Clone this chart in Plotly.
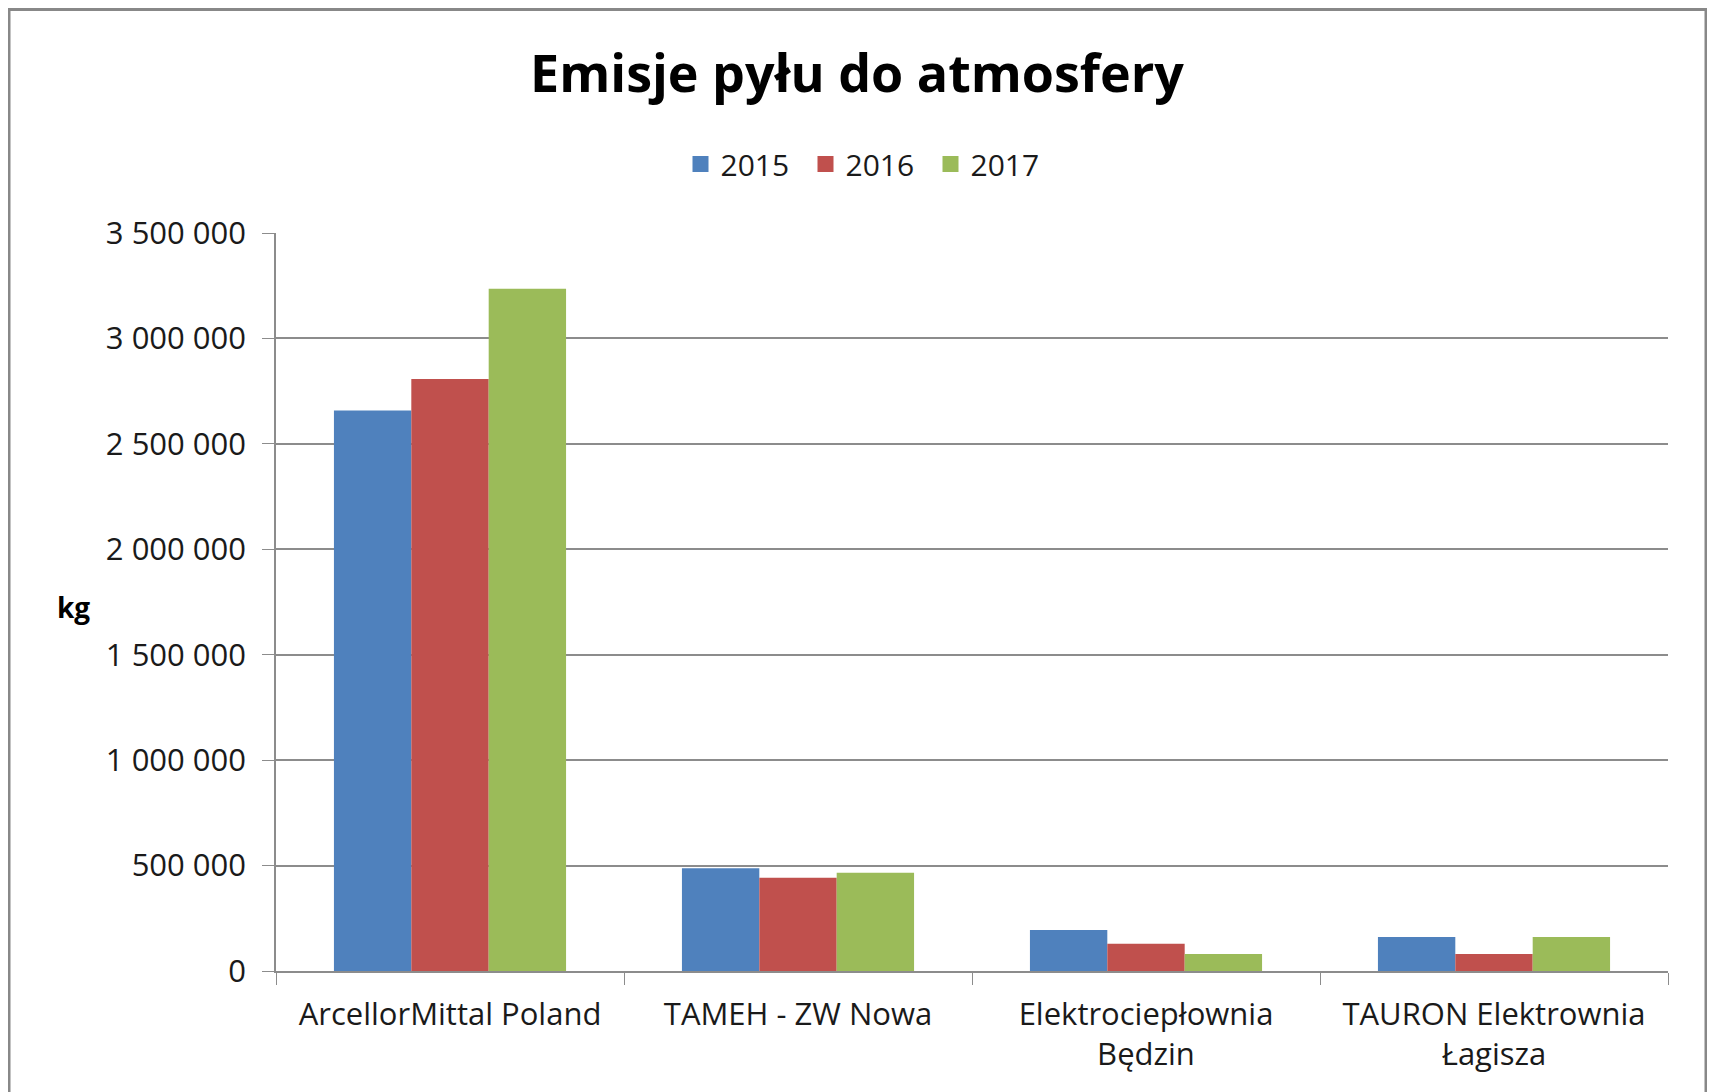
import plotly.graph_objects as go

categories = ["ArcellorMittal Poland", "TAMEH - ZW Nowa",
              "Elektrociepłownia<br>Będzin", "TAURON Elektrownia<br>Łagisza"]
years = ["2015", "2016", "2017"]
v2015 = [2658000, 487000, 194000, 161000]
v2016 = [2807000, 442000, 129000, 81000]
v2017 = [3236000, 466000, 81000, 161000]
colors = ["#4F81BD", "#C0504D", "#9BBB59"]
y_ticks = [0, 500000, 1000000, 1500000, 2000000, 2500000, 3000000, 3500000]

W, H = 1715, 1092
OFF = 8  # page body margin offset
L, R, T, B = 276 - OFF, 47 + OFF, 233 - OFF, 121 + OFF
pw, ph = W - L - R, H - T - B

def px_x(px):
    return (px - OFF - L) / pw

def px_y(py):
    return (H - B - (py - OFF)) / ph

font = "Open Sans, Liberation Sans, sans-serif"

fig = go.Figure()
for name, vals, c in zip(years, [v2015, v2016, v2017], colors):
    fig.add_trace(go.Bar(x=categories, y=vals, name=name, marker_color=c,
                         marker_line_width=0, showlegend=False,
                         legendgroup=name))
# legend entries with larger square swatches
for name, c in zip(years, colors):
    fig.add_trace(go.Scatter(x=[None], y=[None], mode="markers", name=name,
                             legendgroup=name,
                             marker=dict(symbol="square", size=16, color=c)))

fig.update_layout(
    width=W, height=H,
    margin=dict(l=L, r=R, t=T, b=B, autoexpand=False),
    paper_bgcolor="white", plot_bgcolor="white",
    barmode="group", bargap=0.333, bargroupgap=0,
    separators=", ",
    font=dict(family=font, size=31, color="#1a1a1a"),
    title=dict(text="<b>Emisje pyłu do atmosfery</b>", x=(857 - OFF) / W,
               xanchor="center", y=1 - (74 - OFF) / H, yanchor="middle",
               font=dict(family=font, size=52, color="black")),
    legend=dict(orientation="h", x=px_x(868), xanchor="center",
                y=px_y(164), yanchor="middle",
                font=dict(size=30), itemwidth=30, entrywidth=80,
                itemsizing="trace"),
    showlegend=True,
)

fig.update_yaxes(range=[0, 3500000], tickvals=y_ticks, tickformat=",d",
                 showgrid=True, gridcolor="#8c8c8c", gridwidth=1.5,
                 showline=True, linecolor="#8c8c8c", linewidth=1.5,
                 ticks="outside", ticklen=12, tickcolor="#8c8c8c",
                 ticklabelstandoff=10, zeroline=False,
                 tickfont=dict(size=31))
fig.update_xaxes(showline=True, linecolor="#8c8c8c", linewidth=1.5,
                 ticks="outside", tickson="boundaries", ticklen=12,
                 tickcolor="#8c8c8c", showgrid=False, ticklabelstandoff=15,
                 tickfont=dict(size=31))

fig.add_annotation(text="<b>kg</b>", xref="paper", yref="paper",
                   x=px_x(73), y=px_y(607),
                   xanchor="center", yanchor="middle", showarrow=False,
                   font=dict(family=font, size=28, color="black"))

fig.add_shape(type="rect", xref="paper", yref="paper",
              x0=px_x(9), x1=px_x(1706),
              y0=px_y(1110), y1=px_y(9.5),
              line=dict(color="#888888", width=3), fillcolor="rgba(0,0,0,0)",
              layer="below")

fig.write_html("out.html")
